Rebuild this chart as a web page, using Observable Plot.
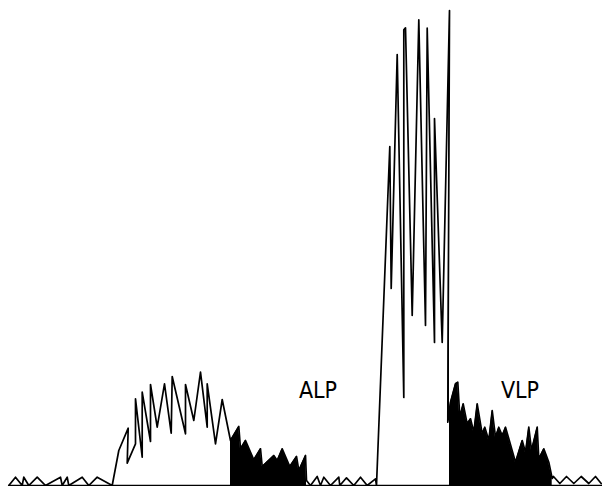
<!DOCTYPE html>
<html>
<head>
<meta charset="utf-8">
<script src="https://cdn.jsdelivr.net/npm/d3@7"></script>
<script src="https://cdn.jsdelivr.net/npm/@observablehq/plot@0.6"></script>
<style>
  html, body { margin: 0; padding: 0; background: #fff; }
  #chart svg { display: block; }
</style>
</head>
<body>
<div id="chart"></div>
<script>
// Signal samples: time (x units) and amplitude (y units above baseline)
const time = [
  8.3, 15, 21.7, 23.3, 28.3, 36.7, 45, 60, 61.7, 66.7, 68.3, 81.7, 88.3, 96.7, 111.7,
  118.3, 127.7, 126.7, 135, 135, 141.7, 141.7, 150, 150, 156.7, 164, 170.7, 171.7, 185, 185, 193.3, 200, 206.7, 206.7, 215, 221.7, 230,
  238.3, 240, 245, 253.3, 260, 261.7, 273.3, 276.7, 281.7, 289.3, 296, 298.3, 305, 306,
  310, 316.7, 320, 323.3, 330, 338.3, 339.3, 346, 353.3, 360, 366.7, 375, 376,
  389.3, 390.7, 396.7, 403.3, 403.3, 405, 411.7, 418.3, 425, 426.7, 434, 434, 441.7, 449,
  447.3, 450, 455, 457.3, 459.3, 462.7, 466.7, 470, 473.3, 476.7, 481.7, 484.3, 488.3, 491.7, 495, 498.3, 501.7, 505, 515, 521.7, 525, 528.3, 531, 536.7, 538.3, 543.3, 548.3, 551.7,
  553, 559.3, 566, 573.3, 580.7, 588.3, 595, 600.7
];
const amplitude = [
  0, 8.3, 0, 8.3, 0, 8.3, 0, 8.3, 0, 8.3, 0, 8.3, 0, 8.3, 0,
  35, 57.3, 22.3, 41.7, 86.7, 28.3, 93.3, 44, 101, 58.3, 101.7, 52.3, 109, 51.7, 101, 65, 113.3, 58.3, 101.7, 41.7, 86, 45,
  59, 36.7, 45, 25.7, 36.7, 19, 30, 25, 36.7, 19, 29, 15, 30, 5,
  0, 9, 0, 8.3, 0, 8.3, 0, 7.7, 0, 8.3, 0, 6.7, 0,
  339, 197, 431, 88, 455.7, 457.7, 170, 465.7, 160, 457.3, 143, 367, 143, 475,
  63.3, 83.3, 101.7, 103.3, 68.3, 81.7, 61.7, 66.7, 53.3, 81.7, 51.7, 58.3, 45, 75, 48.3, 58.3, 50, 58.3, 23.3, 45, 33, 58.3, 35, 58.3, 26.7, 36.7, 23.3, 7,
  9, 2, 9, 2, 9, 2, 9, 2
];
// Shaded late-potential windows (time ranges)
const alpRange = [230, 306];
const vlpRange = [447.3, 551.7];
// Baseline extent
const baselineStart = 8.3;
const baselineEnd = 602;
// Labels
const labelText = ["ALP", "VLP"];
const labelTime = [317.5, 519.5];
const labelAmp = [95, 95];

const signal = time.map((t, i) => ({t, v: amplitude[i]}));
const inRange = (r) => signal.filter(d => d.t >= r[0] && d.t <= r[1]);
const alpData = inRange(alpRange);
const vlpData = inRange(vlpRange);
const labels = labelText.map((s, i) => ({s, t: labelTime[i], v: labelAmp[i]}));

const chart = Plot.plot({
  width: 602,
  height: 486,
  marginTop: 0,
  marginRight: 0,
  marginLeft: 0,
  marginBottom: 1,
  x: {domain: [0, 602], axis: null},
  y: {domain: [0, 485], axis: null},
  marks: [
    Plot.ruleY([0], {x1: baselineStart, x2: baselineEnd, stroke: "black", strokeWidth: 1.6}),
    Plot.areaY(alpData, {x: "t", y: "v", fill: "black", curve: "linear"}),
    Plot.areaY(vlpData, {x: "t", y: "v", fill: "black", curve: "linear"}),
    Plot.line(signal, {x: "t", y: "v", stroke: "black", strokeWidth: 1.7, curve: "linear"}),
    Plot.text(labels, {x: "t", y: "v", text: "s", fontSize: 23, fill: "black", fontFamily: "'Liberation Sans Narrow', 'DejaVu Sans Condensed', sans-serif", textAnchor: "middle"})
  ]
});
document.getElementById("chart").appendChild(chart);
</script>
</body>
</html>
